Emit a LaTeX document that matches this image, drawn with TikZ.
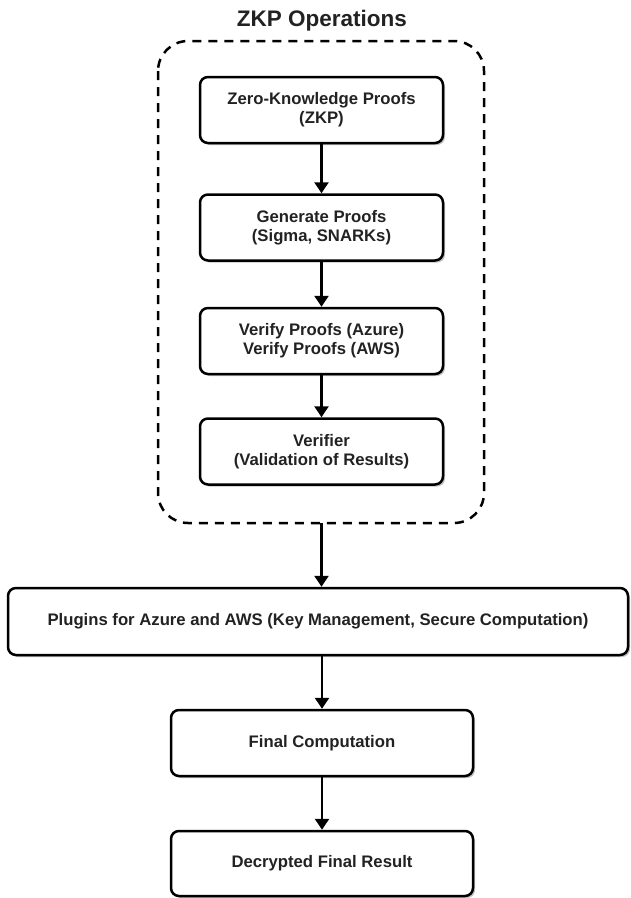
\documentclass[tikz,border=0pt]{standalone}
\usepackage{fontspec}
\setmainfont{Liberation Sans}
\usetikzlibrary{arrows.meta,shadows}
\definecolor{txt}{HTML}{222222}
\begin{document}
\begin{tikzpicture}[x=1pt,y=-1pt,
  procbox/.style={draw=black,line width=2.5pt,rounded corners=8pt,fill=white,
    align=center,font=\fontsize{16.7}{19}\selectfont\bfseries,text=txt,inner sep=0pt,
    drop shadow={shadow xshift=2pt,shadow yshift=-2pt,opacity=0.25,fill=black}},
  conn/.style={line width=2.5pt,-{Triangle[width=14pt,length=11pt]}},
  group/.style={draw=black,line width=2.5pt,dash pattern=on 9pt off 7pt,rounded corners=30pt}]
\useasboundingbox (0,0) rectangle (630,898);
\node[font=\fontsize{22.5}{26}\selectfont\bfseries,text=txt] (title) at (322,21) {ZKP Operations};
\draw[group] (158,41) rectangle (484,523);
\coordinate (grpbot) at (321.5,523);
\node[procbox,minimum width=243pt,minimum height=66pt] (zkp) at (321.5,110) {Zero-Knowledge Proofs\\(ZKP)};
\node[procbox,minimum width=243pt,minimum height=66pt] (gen) at (321.5,227.5) {Generate Proofs\\(Sigma, SNARKs)};
\node[procbox,minimum width=243pt,minimum height=66pt] (ver) at (321.5,341) {Verify Proofs (Azure)\\Verify Proofs (AWS)};
\node[procbox,minimum width=243pt,minimum height=66pt] (vfr) at (321.5,451.5) {Verifier\\(Validation of Results)};
\node[procbox,minimum width=620pt,minimum height=67pt] (plug) at (318,621.5) {Plugins for Azure and AWS (Key Management, Secure Computation)};
\node[procbox,minimum width=302pt,minimum height=66pt] (fin) at (322,743) {Final Computation};
\node[procbox,minimum width=302pt,minimum height=65pt] (dec) at (322,863.5) {Decrypted Final Result};
\draw[conn] (zkp) -- (gen);
\draw[conn] (gen) -- (ver);
\draw[conn] (ver) -- (vfr);
\draw[conn] (grpbot) -- (grpbot |- plug.north);
\draw[conn] (plug.south -| fin.north) -- (fin);
\draw[conn] (fin) -- (dec);
\end{tikzpicture}
\end{document}
